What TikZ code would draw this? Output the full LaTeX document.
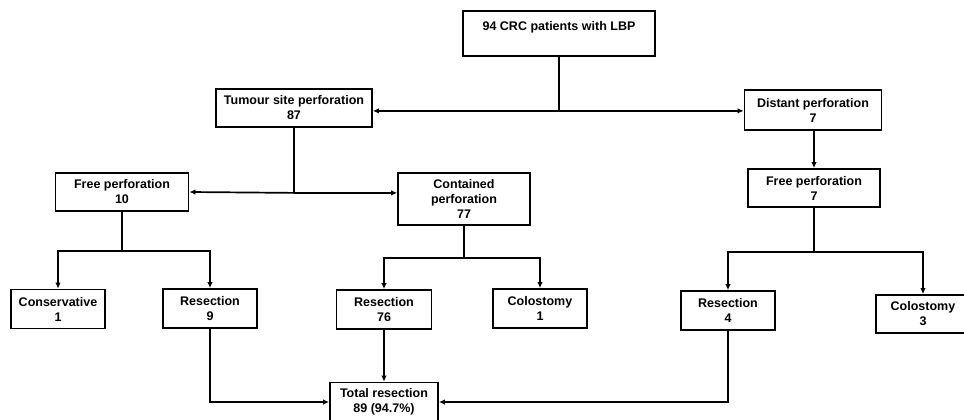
\documentclass[tikz,border=0pt]{standalone}
\usepackage{fontspec}
\setmainfont{Liberation Sans}
\usepackage{tikz}
\usetikzlibrary{arrows.meta}
\tikzstyle{box}=[draw, line width=1.8pt, align=center, inner sep=0pt, minimum height=39pt, font=\bfseries\fontsize{12.5}{15}\selectfont]
\tikzstyle{link}=[draw, line width=1.7pt]
\tikzstyle{arrow}=[link, -{Latex[length=6pt,width=5.5pt]}]

\begin{document}
\begin{tikzpicture}[x=1pt,y=-1pt]
 	\useasboundingbox (0,0) rectangle (964,420);
 	\node[box, minimum width=192pt, minimum height=45pt] (patients) at (559,33.5) {94 CRC patients with LBP\\~};
 	\node[box, minimum width=156pt, minimum height=38pt] (tumour) at (294,108) {Tumour site perforation\\87};
 	\node[box, minimum width=137pt, minimum height=40pt] (distant) at (813,110) {Distant perforation\\7};
 	\node[box, minimum width=133pt, minimum height=38pt] (free10) at (122,192) {Free perforation\\10};
 	\node[box, minimum width=132pt, minimum height=52pt] (contained) at (464,199) {Contained\\perforation\\77};
 	\node[box, minimum width=132pt, minimum height=38pt] (free7) at (814,188) {Free perforation\\7};
 	\node[box, minimum width=94pt] (conservative) at (58,309) {Conservative\\1};
 	\node[box, minimum width=94pt] (resection9) at (210,308.5) {Resection\\9};
 	\node[box, minimum width=95pt] (resection76) at (384,309.5) {Resection\\76};
 	\node[box, minimum width=94pt] (colostomy1) at (540,308.5) {Colostomy\\1};
 	\node[box, minimum width=94pt] (resection4) at (728,310.5) {Resection\\4};
 	\node[box, minimum width=94pt, minimum height=38pt] (colostomy3) at (923,314) {Colostomy\\3};
 	\node[box, minimum width=108pt] (total) at (384,402) {Total resection\\89 (94.7\%)};
 	\draw[link] (patients.south) -- ++(0,54) coordinate (split1);
 	\draw[arrow] (split1) -- (split1 -| tumour.east);
 	\draw[arrow] (split1) -- (split1 -| distant.west);
 	\draw[arrow] (free7.north |- distant.south) -- (free7.north);
 	\draw[link] (tumour.south) -- ++(0,65) coordinate (split2);
 	\draw[arrow] (split2) -- (free10.east);
 	\draw[arrow] (split2) -- (split2 -| contained.west);
 	\draw[link] (free10.south) -- ++(0,39) coordinate (split3);
 	\draw[arrow] (split3) -| (conservative.north);
 	\draw[arrow] (split3) -| (resection9.north);
 	\draw[link] (contained.south) -- ++(0,32) coordinate (split4);
 	\draw[arrow] (split4) -| (resection76.north);
 	\draw[arrow] (split4) -| (colostomy1.north);
 	\draw[link] (free7.south) -- ++(0,44) coordinate (split5);
 	\draw[arrow] (split5) -| (resection4.north);
 	\draw[arrow] (split5) -| (colostomy3.north);
 	\draw[arrow] (resection9.south) |- (total.west);
 	\draw[arrow] (resection76.south) -- (total.north);
 	\draw[arrow] (resection4.south) |- (total.east);
\end{tikzpicture}
\end{document}
